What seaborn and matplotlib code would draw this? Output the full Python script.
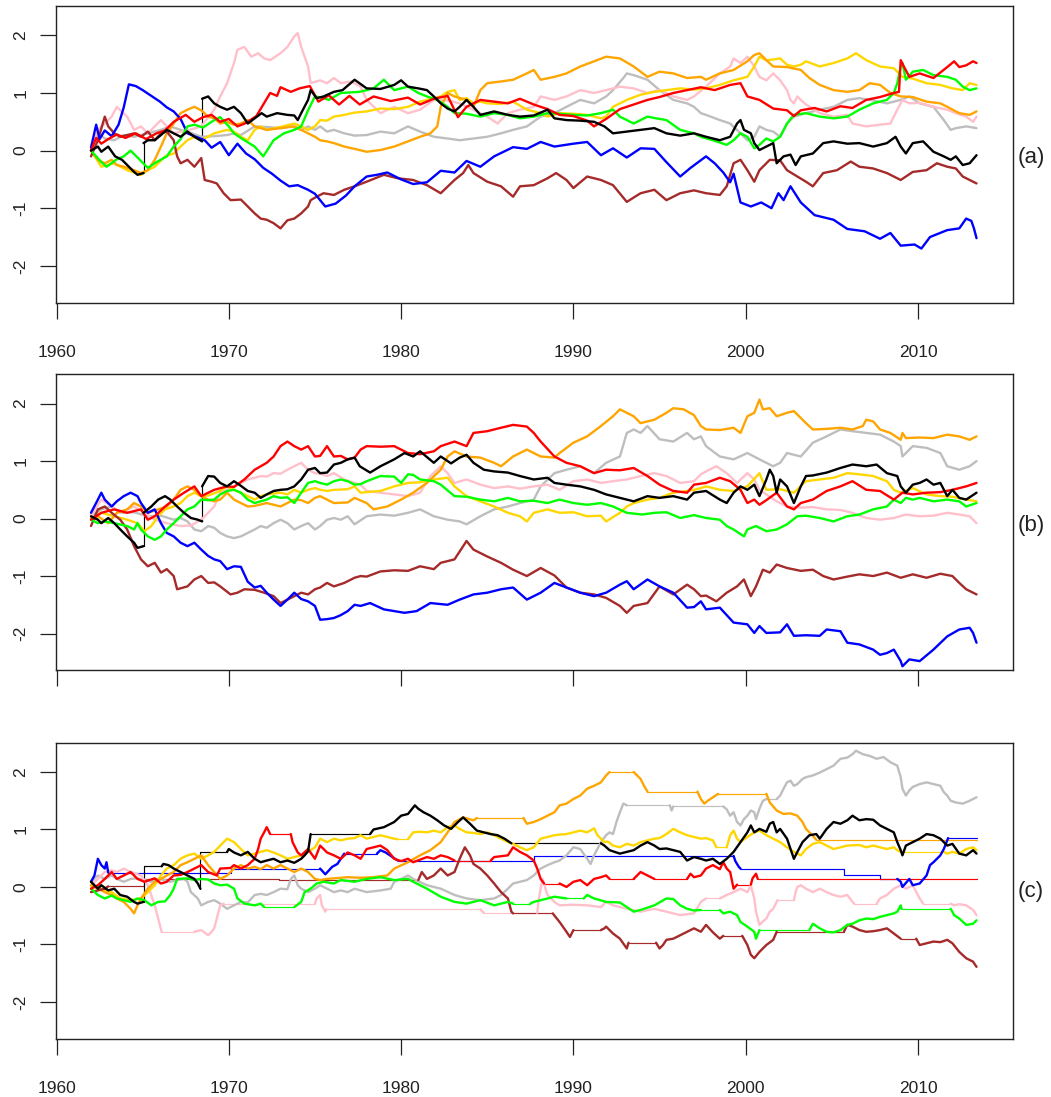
import matplotlib
matplotlib.use("Agg")
import matplotlib.pyplot as plt
import pandas as pd
import seaborn as sns

# ---------------------------------------------------------------- axes setup
YEAR_TICKS = [1960, 1970, 1980, 1990, 2000, 2010]
VALUE_TICKS = [-2, -1, 0, 1, 2]
PANEL_LABELS = ["(a)", "(b)", "(c)"]
SERIES_ORDER = ["gray", "pink", "gold", "orange", "brown", "blue", "green", "red", "black"]
SERIES_COLORS = {"red": "#FF0000", "green": "#00FF00", "blue": "#0000FF",
                 "black": "#000000", "brown": "#A52A2A", "pink": "#FFC0CB",
                 "orange": "#FFA500", "gold": "#FFD700", "gray": "#BEBEBE"}

# ---------------------------------------------------------------- panel (a)
A_RED = [(1962.0, 0.0), (1962.3, 0.22), (1962.6, 0.12), (1963.0, 0.2), (1963.5, 0.28), (1964.0, 0.22),
         (1964.6, 0.3), (1965.2, 0.2), (1965.8, 0.3), (1966.3, 0.35), (1966.8, 0.5), (1967.5, 0.62),
         (1968.0, 0.5), (1968.5, 0.58), (1969.0, 0.62), (1969.5, 0.5), (1970.0, 0.55), (1970.5, 0.42),
         (1971.0, 0.48), (1971.6, 0.6), (1972.1, 0.85), (1972.4, 1.0), (1972.8, 0.95), (1973.0, 1.1),
         (1973.6, 1.02), (1974.1, 1.08), (1974.7, 1.12), (1975.2, 0.85), (1975.8, 0.96), (1976.4, 0.8),
         (1977.0, 0.95), (1977.6, 0.8), (1978.4, 0.94), (1979.4, 0.86), (1980.4, 0.92), (1981.1, 0.8),
         (1981.9, 0.9), (1982.7, 0.95), (1983.3, 0.58), (1983.8, 0.76), (1984.6, 0.88), (1985.4, 0.85),
         (1986.2, 0.82), (1986.9, 0.9), (1987.7, 0.8), (1988.5, 0.72), (1989.2, 0.62), (1990.0, 0.6),
         (1990.8, 0.52), (1991.2, 0.42), (1991.9, 0.55), (1992.7, 0.72), (1993.5, 0.8), (1994.3, 0.88),
         (1995.0, 0.93), (1995.8, 1.0), (1996.6, 1.05), (1997.4, 1.1), (1998.2, 1.05), (1999.1, 1.14),
         (1999.7, 1.17), (2000.1, 0.94), (2000.8, 0.88), (2001.6, 0.73), (2002.4, 0.7), (2002.8, 0.6),
         (2003.2, 0.7), (2004.0, 0.74), (2004.7, 0.68), (2005.5, 0.77), (2006.2, 0.74), (2007.0, 0.88),
         (2007.8, 0.93), (2008.6, 1.0), (2008.9, 1.02), (2009.0, 1.57), (2009.2, 1.45), (2009.5, 1.28),
         (2010.1, 1.34), (2010.9, 1.26), (2011.7, 1.45), (2012.1, 1.55), (2012.4, 1.45), (2012.8, 1.48),
         (2013.2, 1.55), (2013.4, 1.52)]
A_GREEN = [(1962.0, 0.0), (1962.6, -0.2), (1962.9, -0.28), (1963.5, -0.15), (1963.9, -0.1), (1964.3, 0.0),
           (1964.8, -0.15), (1965.3, -0.3), (1965.8, -0.2), (1966.4, -0.1), (1966.8, 0.07), (1967.2, 0.2),
           (1967.6, 0.42), (1968.0, 0.45), (1968.5, 0.4), (1969.1, 0.52), (1969.5, 0.58), (1970.0, 0.42),
           (1970.3, 0.3), (1970.8, 0.2), (1971.5, 0.07), (1972.0, -0.1), (1972.6, 0.18), (1973.2, 0.3),
           (1973.8, 0.36), (1974.2, 0.42), (1974.6, 0.7), (1975.0, 0.94), (1975.4, 0.92), (1975.8, 0.88),
           (1976.5, 1.0), (1977.6, 1.02), (1978.4, 1.08), (1979.0, 1.23), (1979.6, 1.05), (1980.4, 1.11),
           (1981.0, 1.0), (1981.5, 0.94), (1982.1, 0.88), (1982.7, 0.76), (1983.1, 0.65), (1983.8, 0.64),
           (1984.6, 0.59), (1985.4, 0.65), (1986.2, 0.62), (1986.9, 0.56), (1987.7, 0.59), (1988.5, 0.65),
           (1989.2, 0.64), (1990.0, 0.62), (1990.8, 0.61), (1991.6, 0.65), (1992.3, 0.71), (1992.7, 0.59),
           (1993.5, 0.47), (1994.3, 0.59), (1994.8, 0.56), (1995.4, 0.53), (1996.2, 0.36), (1997.0, 0.3),
           (1997.4, 0.24), (1998.1, 0.18), (1998.9, 0.1), (1999.3, 0.18), (1999.7, 0.3), (2000.1, 0.24),
           (2000.5, 0.04), (2000.8, 0.1), (2001.2, 0.21), (2001.6, 0.16), (2002.0, 0.24), (2002.4, 0.47),
           (2002.8, 0.62), (2003.5, 0.65), (2004.3, 0.59), (2005.1, 0.56), (2005.9, 0.59), (2006.6, 0.71),
           (2007.4, 0.82), (2008.2, 0.88), (2008.6, 1.0), (2008.8, 1.17), (2009.0, 1.46), (2009.1, 1.52),
           (2009.3, 1.23), (2009.7, 1.37), (2010.3, 1.4), (2010.9, 1.31), (2011.7, 1.28), (2012.2, 1.23),
           (2012.6, 1.11), (2013.0, 1.05), (2013.4, 1.08)]
A_BLUE = [(1962.0, 0.05), (1962.3, 0.45), (1962.5, 0.2), (1962.8, 0.35), (1963.2, 0.25), (1963.6, 0.45),
          (1963.9, 0.75), (1964.2, 1.15), (1964.6, 1.12), (1965.0, 1.05), (1965.5, 0.95), (1966.0, 0.85),
          (1966.4, 0.75), (1966.8, 0.68), (1967.2, 0.55), (1967.6, 0.3), (1968.0, 0.25), (1968.6, 0.18),
          (1969.0, 0.05), (1969.5, 0.15), (1970.0, -0.08), (1970.5, 0.12), (1971.0, -0.05), (1971.5, -0.15),
          (1972.0, -0.3), (1972.5, -0.4), (1973.0, -0.52), (1973.5, -0.62), (1974.0, -0.6), (1974.6, -0.68),
          (1975.0, -0.75), (1975.6, -0.97), (1976.2, -0.92), (1976.8, -0.78), (1977.3, -0.62), (1978.0, -0.45),
          (1978.6, -0.42), (1979.2, -0.38), (1980.0, -0.5), (1980.7, -0.58), (1981.5, -0.55), (1982.3, -0.35),
          (1983.1, -0.38), (1983.8, -0.18), (1984.6, -0.28), (1985.4, -0.1), (1986.5, 0.06), (1987.3, 0.03),
          (1988.1, 0.15), (1988.9, 0.07), (1990.0, 0.12), (1990.8, 0.15), (1991.6, -0.08), (1992.3, 0.04),
          (1993.1, -0.12), (1993.9, 0.04), (1994.7, 0.03), (1995.4, -0.2), (1996.2, -0.45), (1996.8, -0.3),
          (1997.7, -0.1), (1998.2, -0.22), (1998.7, -0.38), (1999.1, -0.55), (1999.3, -0.4), (1999.7, -0.9),
          (2000.3, -0.97), (2000.9, -0.9), (2001.5, -1.0), (2001.9, -0.74), (2002.2, -0.86), (2002.6, -0.62),
          (2003.2, -0.9), (2004.0, -1.12), (2005.1, -1.2), (2005.9, -1.36), (2006.9, -1.4), (2007.8, -1.53),
          (2008.4, -1.43), (2009.0, -1.65), (2009.8, -1.63), (2010.2, -1.7), (2010.7, -1.5), (2011.7, -1.38),
          (2012.4, -1.35), (2012.8, -1.18), (2013.1, -1.22), (2013.25, -1.35), (2013.4, -1.52)]
A_BLACK = [(1962.0, 0.0), (1962.4, 0.07), (1962.6, -0.02), (1963.0, 0.07), (1963.4, -0.1), (1963.8, -0.16),
           (1964.2, -0.28), (1964.5, -0.37), (1964.7, -0.42), (1965.05, -0.39), (1965.05, 0.13), (1965.3, 0.18),
           (1965.7, 0.18), (1966.06, 0.27), (1966.4, 0.36), (1966.8, 0.3), (1967.2, 0.24), (1967.6, 0.33),
           (1968.0, 0.24), (1968.45, 0.16), (1968.45, 0.9), (1968.8, 0.94), (1969.15, 0.82), (1969.5, 0.76),
           (1969.9, 0.71), (1970.3, 0.76), (1970.7, 0.65), (1971.1, 0.47), (1971.5, 0.56), (1971.9, 0.65),
           (1972.2, 0.59), (1972.8, 0.65), (1973.4, 0.62), (1973.8, 0.61), (1974.0, 0.53), (1974.2, 0.65),
           (1974.6, 0.88), (1974.75, 1.05), (1975.1, 0.91), (1975.5, 0.94), (1976.1, 1.02), (1976.6, 1.05),
           (1977.3, 1.23), (1978.0, 1.08), (1978.8, 1.07), (1979.6, 1.14), (1980.0, 1.22), (1980.4, 1.11),
           (1981.0, 1.08), (1981.5, 1.05), (1981.9, 0.94), (1982.3, 0.82), (1982.7, 0.73), (1983.1, 0.68),
           (1983.4, 0.76), (1983.8, 0.88), (1984.2, 0.76), (1984.6, 0.62), (1985.0, 0.65), (1985.4, 0.68),
           (1986.2, 0.62), (1986.9, 0.59), (1987.7, 0.61), (1988.5, 0.71), (1988.9, 0.56), (1989.6, 0.53),
           (1990.4, 0.52), (1991.2, 0.5), (1991.8, 0.42), (1992.3, 0.3), (1993.1, 0.33), (1993.9, 0.36),
           (1994.7, 0.39), (1995.4, 0.3), (1996.2, 0.26), (1997.0, 0.3), (1997.7, 0.24), (1998.5, 0.18),
           (1999.1, 0.24), (1999.5, 0.47), (1999.7, 0.53), (1999.9, 0.36), (2000.3, 0.3), (2000.5, 0.13),
           (2000.8, 0.01), (2001.2, 0.07), (2001.6, 0.13), (2001.8, -0.22), (2002.2, -0.1), (2002.6, -0.07),
           (2002.9, -0.25), (2003.2, -0.1), (2003.9, -0.05), (2004.5, 0.13), (2005.1, 0.16), (2005.9, 0.12),
           (2006.6, 0.13), (2007.4, 0.07), (2008.2, 0.13), (2008.7, 0.24), (2009.0, 0.07), (2009.3, -0.05),
           (2009.7, 0.13), (2010.3, 0.16), (2010.9, -0.02), (2011.5, -0.1), (2011.9, -0.16), (2012.2, -0.1),
           (2012.6, -0.25), (2013.0, -0.22), (2013.4, -0.08)]
A_BROWN = [(1962.0, -0.1), (1962.4, 0.18), (1962.8, 0.59), (1963.0, 0.42), (1963.35, 0.3), (1963.7, 0.24),
           (1964.1, 0.27), (1964.5, 0.3), (1964.9, 0.24), (1965.3, 0.33), (1965.7, 0.18), (1966.06, 0.3),
           (1966.4, 0.33), (1966.8, 0.18), (1967.0, -0.1), (1967.2, -0.22), (1967.6, -0.16), (1968.0, -0.28),
           (1968.4, -0.13), (1968.6, -0.51), (1969.0, -0.54), (1969.3, -0.57), (1969.7, -0.74), (1970.1, -0.86),
           (1970.7, -0.85), (1971.1, -0.97), (1971.5, -1.09), (1971.85, -1.18), (1972.2, -1.2), (1972.6, -1.26),
           (1973.0, -1.35), (1973.4, -1.21), (1973.8, -1.18), (1974.2, -1.09), (1974.6, -0.97), (1974.75, -0.86),
           (1975.1, -0.8), (1975.5, -0.74), (1976.1, -0.77), (1976.7, -0.68), (1977.3, -0.62), (1978.0, -0.54),
           (1979.0, -0.42), (1979.8, -0.48), (1980.7, -0.51), (1981.5, -0.6), (1982.3, -0.74), (1983.1, -0.51),
           (1983.6, -0.39), (1983.9, -0.25), (1984.2, -0.39), (1985.0, -0.54), (1985.8, -0.62), (1986.5, -0.8),
           (1986.9, -0.62), (1987.7, -0.6), (1988.5, -0.48), (1989.0, -0.39), (1989.6, -0.51), (1990.0, -0.65),
           (1990.8, -0.45), (1991.6, -0.51), (1992.3, -0.6), (1993.1, -0.89), (1993.9, -0.74), (1994.7, -0.68),
           (1995.4, -0.86), (1996.2, -0.74), (1997.0, -0.69), (1997.7, -0.74), (1998.5, -0.77), (1998.9, -0.62),
           (1999.3, -0.22), (1999.7, -0.16), (2000.1, -0.34), (2000.5, -0.54), (2000.8, -0.34), (2001.4, -0.16),
           (2002.0, -0.17), (2002.4, -0.34), (2003.0, -0.45), (2003.5, -0.54), (2003.9, -0.62), (2004.5, -0.39),
           (2005.3, -0.34), (2006.1, -0.19), (2006.6, -0.28), (2007.4, -0.31), (2008.2, -0.39), (2009.0, -0.51),
           (2009.7, -0.37), (2010.5, -0.34), (2011.1, -0.22), (2011.7, -0.28), (2012.2, -0.31), (2012.6, -0.45),
           (2013.0, -0.51), (2013.4, -0.57)]
A_PINK = [(1962.0, 0.0), (1962.4, 0.36), (1962.8, 0.47), (1963.2, 0.59), (1963.5, 0.76), (1963.7, 0.7),
          (1964.1, 0.59), (1964.5, 0.36), (1964.9, 0.42), (1965.3, 0.3), (1965.7, 0.42), (1966.06, 0.53),
          (1966.4, 0.42), (1966.8, 0.3), (1967.6, 0.35), (1968.4, 0.42), (1969.15, 0.71), (1969.5, 0.94),
          (1969.9, 1.17), (1970.3, 1.52), (1970.5, 1.75), (1970.9, 1.8), (1971.3, 1.63), (1971.7, 1.69),
          (1972.05, 1.6), (1972.4, 1.57), (1973.0, 1.69), (1973.4, 1.8), (1973.8, 1.98), (1974.0, 2.04),
          (1974.2, 1.8), (1974.4, 1.63), (1974.6, 1.46), (1974.75, 1.17), (1975.3, 1.22), (1975.7, 1.17),
          (1976.1, 1.26), (1976.5, 1.17), (1977.1, 1.2), (1977.65, 1.11), (1978.0, 0.88), (1978.8, 0.65),
          (1979.6, 0.76), (1980.4, 0.65), (1981.1, 0.71), (1981.9, 0.88), (1982.7, 0.87), (1983.4, 0.82),
          (1984.2, 0.71), (1985.0, 0.59), (1985.6, 0.47), (1986.2, 0.65), (1986.9, 0.71), (1987.7, 0.76),
          (1988.1, 0.94), (1988.9, 0.88), (1989.6, 0.94), (1990.4, 1.05), (1991.2, 1.0), (1991.9, 1.05),
          (1992.7, 1.11), (1993.5, 1.08), (1994.3, 1.0), (1995.0, 1.05), (1995.8, 0.94), (1996.6, 0.88),
          (1997.0, 0.94), (1997.7, 1.11), (1998.5, 1.34), (1999.1, 1.46), (1999.3, 1.6), (1999.7, 1.52),
          (2000.1, 1.63), (2000.5, 1.46), (2000.8, 1.28), (2001.2, 1.22), (2001.6, 1.34), (2002.0, 1.22),
          (2002.4, 1.05), (2002.6, 0.88), (2002.8, 0.82), (2003.0, 0.94), (2003.2, 0.88), (2003.5, 0.8),
          (2004.3, 0.65), (2005.1, 0.59), (2005.9, 0.62), (2006.2, 0.47), (2007.0, 0.42), (2007.8, 0.45),
          (2008.4, 0.47), (2008.8, 0.71), (2009.1, 0.88), (2009.5, 0.82), (2010.1, 0.83), (2010.9, 0.76),
          (2011.7, 0.71), (2012.2, 0.65), (2012.8, 0.59), (2013.2, 0.5), (2013.4, 0.59)]
A_ORANGE = [(1962.0, 0.0), (1962.4, -0.16), (1962.8, -0.22), (1963.2, -0.16), (1963.5, -0.25), (1963.9, -0.28),
            (1964.5, -0.34), (1964.9, -0.39), (1965.3, -0.34), (1965.7, -0.16), (1966.06, 0.07), (1966.4, 0.3),
            (1966.8, 0.47), (1967.2, 0.65), (1967.6, 0.71), (1968.0, 0.76), (1968.4, 0.7), (1968.8, 0.59),
            (1969.15, 0.56), (1969.5, 0.47), (1969.9, 0.5), (1970.3, 0.45), (1970.7, 0.47), (1971.1, 0.53),
            (1971.5, 0.42), (1972.2, 0.36), (1973.0, 0.39), (1973.8, 0.42), (1974.2, 0.36), (1974.6, 0.3),
            (1975.0, 0.24), (1975.3, 0.18), (1975.7, 0.16), (1976.1, 0.13), (1976.7, 0.07), (1977.3, 0.03),
            (1978.0, -0.02), (1978.8, 0.01), (1979.6, 0.07), (1980.4, 0.16), (1981.1, 0.24), (1981.7, 0.3),
            (1982.1, 0.42), (1982.3, 0.76), (1982.7, 1.0), (1983.1, 0.94), (1983.8, 0.88), (1984.2, 0.76),
            (1984.6, 1.05), (1985.0, 1.17), (1985.8, 1.2), (1986.5, 1.23), (1987.3, 1.34), (1987.7, 1.4),
            (1988.1, 1.23), (1988.9, 1.28), (1989.6, 1.34), (1990.4, 1.46), (1991.2, 1.55), (1991.9, 1.63),
            (1992.7, 1.6), (1993.5, 1.46), (1993.9, 1.37), (1994.3, 1.28), (1995.0, 1.37), (1995.8, 1.34),
            (1996.6, 1.26), (1997.4, 1.28), (1997.7, 1.23), (1998.5, 1.34), (1999.3, 1.4), (2000.1, 1.55),
            (2000.5, 1.66), (2000.8, 1.69), (2001.2, 1.57), (2001.6, 1.46), (2002.4, 1.45), (2003.2, 1.4),
            (2003.7, 1.26), (2004.3, 1.14), (2005.1, 1.05), (2005.9, 1.02), (2006.6, 1.05), (2007.2, 1.17),
            (2007.8, 1.14), (2008.4, 1.0), (2009.0, 0.94), (2009.7, 0.93), (2010.5, 0.85), (2011.3, 0.82),
            (2011.7, 0.76), (2012.4, 0.65), (2013.0, 0.62), (2013.4, 0.68)]
A_GOLD = [(1962.0, 0.0), (1962.6, -0.28), (1963.35, -0.22), (1964.1, -0.34), (1964.9, -0.42), (1965.3, -0.34),
          (1965.7, -0.28), (1966.3, -0.1), (1966.8, -0.05), (1967.2, 0.07), (1967.6, 0.18), (1968.0, 0.24),
          (1968.4, 0.18), (1969.15, 0.3), (1969.9, 0.36), (1970.3, 0.33), (1970.7, 0.24), (1971.1, 0.18),
          (1971.5, 0.36), (1971.85, 0.42), (1972.2, 0.36), (1973.0, 0.41), (1973.8, 0.47), (1974.2, 0.42),
          (1974.6, 0.36), (1975.0, 0.42), (1975.3, 0.53), (1975.7, 0.52), (1976.1, 0.59), (1976.7, 0.62),
          (1977.3, 0.66), (1978.0, 0.68), (1978.8, 0.73), (1979.6, 0.72), (1980.4, 0.76), (1981.1, 0.85),
          (1981.9, 0.91), (1982.3, 0.94), (1982.7, 1.02), (1983.1, 1.05), (1983.4, 0.88), (1983.8, 0.91),
          (1984.2, 0.82), (1984.6, 0.85), (1985.0, 0.82), (1985.8, 0.81), (1986.5, 0.85), (1987.3, 0.71),
          (1988.1, 0.65), (1988.5, 0.59), (1989.2, 0.65), (1990.0, 0.64), (1990.8, 0.62), (1991.6, 0.56),
          (1991.9, 0.59), (1992.3, 0.76), (1993.1, 0.88), (1993.9, 0.97), (1994.7, 1.02), (1995.4, 1.05),
          (1996.2, 1.08), (1997.0, 1.06), (1997.7, 1.08), (1998.5, 1.14), (1999.3, 1.22), (2000.1, 1.28),
          (2000.5, 1.46), (2000.8, 1.63), (2001.2, 1.57), (2001.6, 1.58), (2002.0, 1.6), (2002.4, 1.49),
          (2002.8, 1.46), (2003.2, 1.49), (2003.5, 1.55), (2004.3, 1.46), (2005.1, 1.52), (2005.9, 1.6),
          (2006.4, 1.69), (2007.0, 1.57), (2007.8, 1.46), (2008.6, 1.43), (2009.1, 1.28), (2009.7, 1.25),
          (2010.5, 1.17), (2011.3, 1.14), (2012.0, 1.08), (2012.6, 1.05), (2013.0, 1.17), (2013.4, 1.14)]
A_GRAY = [(1962.0, 0.07), (1962.4, 0.3), (1962.8, 0.21), (1963.35, 0.18), (1963.9, 0.27), (1964.5, 0.24),
          (1965.3, 0.3), (1966.06, 0.36), (1966.6, 0.42), (1967.2, 0.36), (1967.6, 0.33), (1968.4, 0.24),
          (1969.15, 0.25), (1969.9, 0.27), (1970.3, 0.3), (1970.7, 0.27), (1971.5, 0.42), (1972.2, 0.41),
          (1973.0, 0.39), (1973.6, 0.42), (1974.2, 0.36), (1974.6, 0.42), (1975.0, 0.36), (1975.3, 0.42),
          (1975.7, 0.33), (1976.1, 0.36), (1976.7, 0.3), (1977.3, 0.26), (1978.0, 0.27), (1978.8, 0.33),
          (1979.6, 0.3), (1980.4, 0.42), (1981.1, 0.33), (1981.9, 0.24), (1982.7, 0.21), (1983.4, 0.18),
          (1984.2, 0.21), (1985.0, 0.24), (1985.8, 0.3), (1986.5, 0.36), (1987.3, 0.42), (1988.1, 0.59),
          (1988.9, 0.65), (1989.6, 0.76), (1990.4, 0.88), (1991.2, 0.82), (1991.9, 0.94), (1992.3, 1.05),
          (1992.9, 1.26), (1993.1, 1.34), (1993.5, 1.31), (1994.3, 1.23), (1995.0, 1.05), (1995.8, 0.88),
          (1996.6, 0.82), (1997.0, 0.76), (1997.4, 0.65), (1997.7, 0.62), (1998.5, 0.53), (1999.1, 0.47),
          (1999.7, 0.3), (2000.1, 0.18), (2000.5, 0.24), (2000.8, 0.42), (2001.2, 0.36), (2001.6, 0.33),
          (2002.0, 0.24), (2002.4, 0.47), (2002.8, 0.59), (2003.5, 0.65), (2004.3, 0.71), (2005.1, 0.76),
          (2005.9, 0.88), (2006.6, 0.91), (2007.4, 0.87), (2008.2, 0.82), (2009.0, 0.88), (2009.5, 0.94),
          (2010.1, 0.82), (2010.9, 0.76), (2011.5, 0.53), (2011.9, 0.36), (2012.2, 0.39), (2012.8, 0.42),
          (2013.4, 0.39)]

# ---------------------------------------------------------------- panel (b)
B_RED = [(1962.0, -0.02), (1962.6, 0.1), (1963.35, 0.16), (1964.1, 0.1), (1964.9, 0.16), (1965.3, -0.02),
         (1965.7, 0.04), (1966.3, 0.21), (1966.8, 0.33), (1967.4, 0.45), (1968.0, 0.56), (1968.4, 0.39),
         (1969.15, 0.5), (1969.9, 0.56), (1970.3, 0.55), (1970.9, 0.68), (1971.5, 0.85), (1971.85, 0.91),
         (1972.2, 0.97), (1972.6, 1.08), (1973.0, 1.26), (1973.4, 1.34), (1973.8, 1.26), (1974.2, 1.2),
         (1974.6, 1.26), (1975.0, 1.08), (1975.3, 1.09), (1975.7, 1.26), (1976.1, 1.08), (1976.5, 1.09),
         (1976.9, 1.03), (1977.3, 1.06), (1977.65, 1.2), (1978.0, 1.26), (1978.8, 1.25), (1979.6, 1.26),
         (1980.4, 1.14), (1981.1, 1.12), (1981.9, 1.17), (1982.3, 1.26), (1983.1, 1.34), (1983.8, 1.26),
         (1984.2, 1.49), (1985.0, 1.52), (1985.8, 1.58), (1986.5, 1.63), (1987.3, 1.6), (1987.7, 1.49),
         (1988.1, 1.34), (1988.9, 1.08), (1989.6, 0.97), (1990.4, 0.91), (1991.2, 0.79), (1991.9, 0.85),
         (1992.7, 0.84), (1993.5, 0.88), (1994.3, 0.74), (1995.0, 0.59), (1995.8, 0.48), (1996.6, 0.45),
         (1997.0, 0.59), (1997.7, 0.62), (1998.5, 0.71), (1999.1, 0.65), (1999.7, 0.5), (2000.1, 0.27),
         (2000.5, 0.33), (2000.8, 0.24), (2001.2, 0.32), (2001.8, 0.45), (2002.4, 0.21), (2002.8, 0.16),
         (2003.2, 0.27), (2003.9, 0.33), (2004.7, 0.48), (2005.5, 0.56), (2006.2, 0.65), (2007.0, 0.5),
         (2007.8, 0.48), (2008.6, 0.33), (2009.1, 0.45), (2009.7, 0.42), (2010.5, 0.45), (2011.3, 0.46),
         (2012.0, 0.5), (2012.8, 0.56), (2013.4, 0.62)]
B_GREEN = [(1962.0, -0.02), (1962.4, -0.08), (1962.8, -0.05), (1963.35, -0.08), (1964.1, -0.13), (1964.5, -0.19),
           (1964.7, -0.08), (1964.9, -0.19), (1965.3, -0.31), (1965.7, -0.37), (1966.06, -0.31), (1966.4, -0.19),
           (1966.8, -0.08), (1967.2, 0.04), (1967.6, 0.16), (1968.0, 0.21), (1968.4, 0.33), (1968.8, 0.32),
           (1969.15, 0.33), (1969.5, 0.42), (1969.9, 0.48), (1970.3, 0.5), (1970.7, 0.45), (1971.1, 0.33),
           (1971.5, 0.27), (1971.85, 0.3), (1972.2, 0.33), (1972.6, 0.39), (1973.0, 0.36), (1973.4, 0.37),
           (1973.8, 0.27), (1974.2, 0.45), (1974.6, 0.62), (1975.0, 0.65), (1975.3, 0.62), (1975.7, 0.59),
           (1976.1, 0.65), (1976.5, 0.68), (1976.9, 0.65), (1977.3, 0.59), (1977.65, 0.6), (1978.0, 0.65),
           (1978.8, 0.74), (1979.6, 0.73), (1980.0, 0.62), (1980.4, 0.77), (1980.7, 0.76), (1981.1, 0.68),
           (1981.9, 0.65), (1982.3, 0.59), (1983.1, 0.39), (1983.8, 0.38), (1984.6, 0.33), (1985.4, 0.3),
           (1986.2, 0.36), (1986.9, 0.3), (1987.7, 0.31), (1988.5, 0.27), (1989.2, 0.33), (1990.0, 0.27),
           (1990.8, 0.24), (1991.6, 0.27), (1992.3, 0.21), (1993.1, 0.1), (1994.0, 0.07), (1994.7, 0.1),
           (1995.4, 0.11), (1996.2, 0.01), (1997.0, 0.06), (1997.7, 0.01), (1998.5, -0.02), (1998.9, -0.13),
           (1999.3, -0.19), (1999.9, -0.31), (2000.1, -0.19), (2000.6, -0.13), (2001.2, -0.22), (2001.8, -0.19),
           (2002.4, -0.1), (2003.0, 0.04), (2003.5, 0.05), (2004.3, 0.01), (2005.1, -0.05), (2005.9, 0.04),
           (2006.6, 0.07), (2007.4, 0.16), (2008.2, 0.21), (2008.6, 0.33), (2009.0, 0.27), (2009.3, 0.36),
           (2009.7, 0.33), (2010.1, 0.36), (2010.9, 0.3), (2011.7, 0.33), (2012.4, 0.3), (2012.8, 0.21),
           (2013.4, 0.27)]
B_BLUE = [(1962.0, 0.1), (1962.4, 0.33), (1962.6, 0.45), (1962.8, 0.33), (1963.2, 0.21), (1963.5, 0.3),
          (1963.9, 0.39), (1964.3, 0.45), (1964.7, 0.39), (1964.9, 0.27), (1965.3, 0.1), (1965.7, 0.16),
          (1966.06, -0.08), (1966.4, -0.25), (1966.8, -0.31), (1967.2, -0.42), (1967.6, -0.48), (1968.0, -0.42),
          (1968.4, -0.54), (1968.8, -0.65), (1969.15, -0.71), (1969.5, -0.74), (1969.9, -0.88), (1970.3, -0.83),
          (1970.7, -0.84), (1971.1, -1.1), (1971.5, -1.2), (1971.85, -1.17), (1972.2, -1.29), (1972.6, -1.41),
          (1973.0, -1.52), (1973.4, -1.41), (1973.8, -1.29), (1974.2, -1.4), (1974.6, -1.44), (1975.0, -1.52),
          (1975.3, -1.76), (1975.7, -1.75), (1976.1, -1.73), (1976.5, -1.68), (1976.9, -1.61), (1977.3, -1.5),
          (1977.65, -1.52), (1978.2, -1.47), (1979.0, -1.58), (1980.2, -1.64), (1980.9, -1.61), (1981.7, -1.47),
          (1982.7, -1.5), (1983.4, -1.41), (1984.2, -1.32), (1985.0, -1.29), (1985.8, -1.23), (1986.5, -1.2),
          (1987.3, -1.41), (1988.1, -1.29), (1988.9, -1.12), (1989.6, -1.2), (1990.4, -1.29), (1991.2, -1.35),
          (1991.9, -1.29), (1992.7, -1.15), (1993.1, -1.09), (1993.5, -1.23), (1994.3, -1.06), (1995.0, -1.18),
          (1995.8, -1.29), (1996.6, -1.55), (1997.0, -1.54), (1997.4, -1.44), (1997.7, -1.58), (1998.5, -1.55),
          (1999.3, -1.81), (2000.1, -1.84), (2000.5, -1.99), (2000.8, -1.87), (2001.2, -1.99), (2002.0, -1.98),
          (2002.4, -1.84), (2002.8, -2.04), (2003.5, -2.03), (2004.3, -2.04), (2004.7, -1.93), (2005.5, -1.96),
          (2005.9, -2.16), (2006.6, -2.19), (2007.4, -2.28), (2007.8, -2.37), (2008.2, -2.34), (2008.6, -2.28),
          (2009.0, -2.48), (2009.1, -2.57), (2009.5, -2.45), (2010.1, -2.48), (2010.9, -2.28), (2011.7, -2.05),
          (2012.4, -1.93), (2013.0, -1.9), (2013.2, -1.99), (2013.4, -2.16)]
B_BLACK = [(1962.0, 0.04), (1962.4, -0.02), (1962.6, -0.08), (1963.0, 0.01), (1963.35, -0.08), (1963.7, -0.19),
           (1964.1, -0.31), (1964.5, -0.42), (1964.7, -0.51), (1965.05, -0.48), (1965.05, 0.1), (1965.5, 0.21),
           (1965.9, 0.33), (1966.3, 0.39), (1966.6, 0.33), (1967.0, 0.21), (1967.4, 0.1), (1967.8, 0.01),
           (1968.2, -0.02), (1968.45, -0.05), (1968.45, 0.56), (1968.8, 0.74), (1969.15, 0.73), (1969.5, 0.62),
           (1969.9, 0.56), (1970.3, 0.65), (1970.7, 0.57), (1971.1, 0.48), (1971.5, 0.45), (1971.85, 0.36),
           (1972.2, 0.42), (1972.6, 0.48), (1973.0, 0.5), (1973.4, 0.51), (1973.8, 0.56), (1974.2, 0.68),
           (1974.6, 0.85), (1975.0, 0.88), (1975.3, 0.79), (1975.7, 0.8), (1976.1, 0.94), (1976.5, 0.97),
           (1976.9, 1.03), (1977.3, 1.06), (1977.6, 0.91), (1978.2, 0.8), (1978.8, 0.91), (1979.6, 1.03),
           (1980.2, 1.14), (1980.7, 1.08), (1981.1, 1.17), (1981.5, 1.07), (1981.9, 0.97), (1982.3, 1.08),
           (1982.9, 0.96), (1983.4, 1.06), (1983.8, 1.11), (1984.2, 0.97), (1984.8, 0.85), (1985.4, 0.82),
           (1986.2, 0.8), (1986.9, 0.74), (1987.7, 0.68), (1988.5, 0.71), (1988.9, 0.62), (1989.6, 0.59),
           (1990.4, 0.56), (1991.2, 0.5), (1991.9, 0.42), (1992.7, 0.36), (1993.5, 0.3), (1994.3, 0.39),
           (1995.0, 0.36), (1995.8, 0.39), (1996.6, 0.33), (1997.0, 0.45), (1997.7, 0.48), (1998.5, 0.33),
           (1998.9, 0.27), (1999.3, 0.45), (1999.7, 0.56), (2000.1, 0.5), (2000.5, 0.59), (2000.8, 0.39),
           (2001.2, 0.68), (2001.4, 0.85), (2001.6, 0.74), (2001.8, 0.45), (2002.0, 0.68), (2002.4, 0.56),
           (2002.8, 0.27), (2003.2, 0.56), (2003.5, 0.74), (2003.9, 0.75), (2004.7, 0.8), (2005.5, 0.88),
           (2006.2, 0.94), (2007.0, 0.91), (2007.6, 0.94), (2008.2, 0.79), (2008.8, 0.74), (2009.0, 0.56),
           (2009.3, 0.45), (2009.7, 0.59), (2010.1, 0.62), (2010.5, 0.68), (2010.9, 0.59), (2011.3, 0.62),
           (2011.7, 0.39), (2012.0, 0.5), (2012.4, 0.36), (2012.8, 0.33), (2013.4, 0.45)]
B_BROWN = [(1962.0, -0.13), (1962.4, 0.16), (1962.8, 0.21), (1963.2, 0.1), (1963.7, -0.02), (1964.1, -0.19),
           (1964.5, -0.48), (1964.9, -0.71), (1965.3, -0.83), (1965.7, -0.77), (1966.06, -0.94), (1966.4, -0.88),
           (1966.8, -1.0), (1967.0, -1.23), (1967.6, -1.18), (1968.0, -1.06), (1968.4, -1.0), (1968.8, -1.12),
           (1969.15, -1.11), (1969.5, -1.18), (1970.1, -1.32), (1970.5, -1.29), (1970.9, -1.23), (1971.5, -1.24),
           (1972.05, -1.29), (1972.6, -1.35), (1973.0, -1.47), (1973.4, -1.41), (1973.8, -1.35), (1974.2, -1.29),
           (1974.6, -1.32), (1975.0, -1.23), (1975.3, -1.2), (1975.7, -1.12), (1976.1, -1.18), (1976.7, -1.12),
           (1977.3, -1.03), (1977.65, -1.0), (1978.0, -1.01), (1978.8, -0.92), (1979.6, -0.9), (1980.4, -0.91),
           (1981.1, -0.83), (1981.9, -0.88), (1982.3, -0.77), (1983.1, -0.71), (1983.8, -0.39), (1984.2, -0.54),
           (1985.0, -0.66), (1985.8, -0.77), (1986.5, -0.89), (1987.3, -1.0), (1988.1, -0.86), (1988.9, -0.99),
           (1989.6, -1.2), (1990.4, -1.29), (1991.2, -1.32), (1991.9, -1.38), (1992.7, -1.52), (1993.1, -1.64),
           (1993.5, -1.52), (1994.3, -1.47), (1995.0, -1.18), (1995.8, -1.32), (1996.6, -1.15), (1997.0, -1.23),
           (1997.4, -1.35), (1997.7, -1.34), (1998.3, -1.44), (1998.9, -1.29), (1999.5, -1.18), (1999.9, -1.06),
           (2000.3, -1.35), (2000.6, -1.18), (2001.0, -0.89), (2001.4, -0.94), (2001.8, -0.8), (2002.4, -0.86),
           (2003.2, -0.91), (2003.9, -0.89), (2004.5, -1.0), (2005.1, -1.06), (2005.9, -1.01), (2006.6, -0.97),
           (2007.4, -1.0), (2008.2, -0.94), (2009.0, -1.03), (2009.7, -0.97), (2010.5, -1.03), (2011.3, -0.96),
           (2012.0, -1.0), (2012.4, -1.12), (2012.8, -1.23), (2013.4, -1.32)]
B_PINK = [(1962.0, 0.05), (1962.6, 0.33), (1963.2, 0.21), (1963.7, 0.1), (1964.5, 0.21), (1965.1, 0.1),
          (1965.7, -0.02), (1966.4, -0.08), (1967.2, -0.13), (1967.8, -0.12), (1968.4, -0.02), (1968.8, 0.1),
          (1969.15, 0.21), (1969.5, 0.45), (1969.9, 0.5), (1970.3, 0.56), (1970.7, 0.62), (1971.1, 0.68),
          (1971.5, 0.71), (1971.85, 0.74), (1972.2, 0.73), (1972.6, 0.79), (1973.0, 0.78), (1973.4, 0.85),
          (1973.8, 0.91), (1974.2, 0.97), (1974.6, 0.85), (1975.0, 0.79), (1975.3, 0.78), (1975.7, 0.74),
          (1976.1, 0.79), (1976.7, 0.68), (1977.3, 0.62), (1977.65, 0.59), (1978.0, 0.48), (1978.8, 0.45),
          (1979.6, 0.42), (1980.4, 0.39), (1981.1, 0.45), (1981.7, 0.74), (1982.3, 0.91), (1982.7, 0.79),
          (1983.1, 0.62), (1983.8, 0.68), (1984.6, 0.59), (1985.4, 0.53), (1986.2, 0.56), (1986.9, 0.52),
          (1987.7, 0.56), (1988.5, 0.59), (1989.2, 0.5), (1990.0, 0.65), (1990.8, 0.68), (1991.6, 0.62),
          (1992.3, 0.65), (1993.1, 0.68), (1993.9, 0.74), (1994.7, 0.79), (1995.4, 0.74), (1996.2, 0.62),
          (1997.0, 0.65), (1997.4, 0.77), (1997.7, 0.82), (1998.3, 0.91), (1998.9, 0.79), (1999.5, 0.62),
          (2000.1, 0.79), (2000.5, 0.68), (2000.8, 0.5), (2001.2, 0.42), (2001.8, 0.3), (2002.4, 0.21),
          (2003.2, 0.19), (2003.9, 0.2), (2004.7, 0.16), (2005.5, 0.15), (2006.2, 0.1), (2007.0, 0.01),
          (2007.8, -0.02), (2008.6, 0.01), (2009.3, 0.07), (2010.1, 0.04), (2010.9, 0.05), (2011.7, 0.1),
          (2012.4, 0.07), (2013.0, 0.04), (2013.4, -0.08)]
B_ORANGE = [(1962.0, 0.0), (1962.4, 0.04), (1963.0, -0.08), (1963.5, 0.1), (1964.1, 0.16), (1964.5, 0.27),
            (1964.9, 0.21), (1965.3, 0.1), (1965.9, 0.16), (1966.4, 0.21), (1966.8, 0.33), (1967.2, 0.5),
            (1967.6, 0.56), (1968.0, 0.5), (1968.4, 0.39), (1968.8, 0.33), (1969.15, 0.3), (1969.5, 0.33),
            (1969.9, 0.45), (1970.3, 0.33), (1970.7, 0.27), (1971.1, 0.21), (1971.5, 0.22), (1972.2, 0.27),
            (1973.0, 0.21), (1973.4, 0.27), (1973.8, 0.33), (1974.2, 0.32), (1974.6, 0.27), (1975.0, 0.36),
            (1975.3, 0.39), (1975.7, 0.33), (1976.1, 0.27), (1976.9, 0.28), (1977.3, 0.36), (1978.0, 0.27),
            (1978.4, 0.16), (1979.2, 0.21), (1980.0, 0.33), (1980.7, 0.45), (1981.5, 0.62), (1982.3, 0.85),
            (1982.7, 1.08), (1983.1, 1.17), (1983.8, 1.08), (1984.6, 1.06), (1985.4, 0.97), (1985.8, 0.91),
            (1986.5, 1.08), (1987.3, 1.2), (1988.1, 1.08), (1988.9, 1.06), (1989.2, 1.14), (1990.0, 1.32),
            (1990.8, 1.43), (1991.6, 1.61), (1992.3, 1.78), (1992.7, 1.9), (1993.5, 1.78), (1993.9, 1.66),
            (1994.7, 1.72), (1995.4, 1.84), (1995.8, 1.92), (1996.4, 1.9), (1997.0, 1.8), (1997.4, 1.61),
            (1997.7, 1.55), (1998.5, 1.54), (1999.3, 1.58), (1999.7, 1.49), (2000.1, 1.78), (2000.5, 1.84),
            (2000.8, 2.07), (2001.0, 1.9), (2001.4, 1.92), (2001.8, 1.78), (2002.4, 1.84), (2002.8, 1.87),
            (2003.2, 1.75), (2003.5, 1.66), (2003.9, 1.55), (2004.7, 1.56), (2005.5, 1.58), (2006.2, 1.55),
            (2006.8, 1.61), (2007.0, 1.72), (2007.4, 1.69), (2007.8, 1.55), (2008.4, 1.49), (2009.0, 1.37),
            (2009.1, 1.49), (2009.3, 1.4), (2010.1, 1.41), (2010.9, 1.4), (2011.7, 1.46), (2012.4, 1.43),
            (2013.0, 1.37), (2013.4, 1.43)]
B_GOLD = [(1962.0, 0.0), (1962.6, 0.1), (1963.35, 0.04), (1964.1, -0.02), (1964.7, -0.08), (1965.1, -0.22),
          (1965.5, -0.13), (1965.9, 0.04), (1966.3, 0.16), (1966.8, 0.21), (1967.2, 0.27), (1967.6, 0.39),
          (1968.0, 0.45), (1968.4, 0.39), (1968.8, 0.4), (1969.5, 0.48), (1969.9, 0.56), (1970.3, 0.5),
          (1970.7, 0.45), (1971.1, 0.39), (1971.5, 0.33), (1971.85, 0.39), (1972.2, 0.42), (1973.0, 0.45),
          (1973.4, 0.42), (1973.8, 0.5), (1974.2, 0.45), (1974.6, 0.5), (1975.0, 0.53), (1975.3, 0.5),
          (1975.7, 0.48), (1976.1, 0.5), (1976.9, 0.51), (1977.3, 0.56), (1977.65, 0.45), (1978.0, 0.46),
          (1978.8, 0.48), (1979.6, 0.56), (1980.4, 0.62), (1981.1, 0.63), (1981.9, 0.68), (1982.7, 0.71),
          (1983.1, 0.56), (1983.8, 0.39), (1984.6, 0.3), (1985.4, 0.21), (1986.2, 0.1), (1986.9, 0.04),
          (1987.3, -0.05), (1987.7, 0.1), (1988.5, 0.16), (1989.2, 0.1), (1990.0, 0.11), (1990.8, 0.04),
          (1991.6, 0.05), (1991.9, -0.05), (1992.7, 0.1), (1993.1, 0.21), (1993.5, 0.27), (1994.3, 0.33),
          (1995.0, 0.36), (1995.8, 0.45), (1996.6, 0.48), (1997.0, 0.5), (1997.4, 0.53), (1997.7, 0.56),
          (1998.5, 0.5), (1999.3, 0.48), (2000.1, 0.56), (2000.8, 0.79), (2001.2, 0.5), (2002.0, 0.51),
          (2002.8, 0.45), (2003.5, 0.65), (2004.3, 0.68), (2005.1, 0.71), (2005.9, 0.79), (2006.6, 0.77),
          (2007.4, 0.74), (2008.2, 0.65), (2008.6, 0.5), (2009.0, 0.45), (2009.7, 0.53), (2010.5, 0.42),
          (2011.3, 0.39), (2012.0, 0.38), (2012.8, 0.33), (2013.4, 0.3)]
B_GRAY = [(1962.0, 0.04), (1962.6, 0.16), (1963.2, 0.21), (1963.7, 0.1), (1964.5, 0.11), (1965.3, 0.04),
          (1966.06, 0.05), (1966.8, -0.02), (1967.2, 0.01), (1967.6, -0.05), (1968.0, -0.19), (1968.4, -0.22),
          (1968.8, -0.13), (1969.15, -0.16), (1969.5, -0.25), (1969.9, -0.31), (1970.3, -0.34), (1970.7, -0.31),
          (1971.1, -0.25), (1971.5, -0.19), (1971.85, -0.13), (1972.2, -0.16), (1972.6, -0.08), (1973.0, -0.02),
          (1973.4, -0.08), (1973.8, -0.19), (1974.2, -0.13), (1974.6, -0.08), (1975.0, -0.19), (1975.3, -0.13),
          (1975.7, -0.02), (1976.1, 0.01), (1976.5, -0.02), (1976.9, 0.04), (1977.3, -0.1), (1978.0, 0.04),
          (1978.8, 0.07), (1979.6, 0.05), (1980.4, 0.1), (1981.1, 0.16), (1981.9, 0.04), (1982.7, -0.02),
          (1983.4, -0.05), (1983.8, -0.1), (1984.6, 0.04), (1985.4, 0.16), (1986.2, 0.21), (1986.9, 0.27),
          (1987.7, 0.33), (1988.1, 0.56), (1988.9, 0.79), (1989.6, 0.85), (1990.4, 0.91), (1991.2, 0.79),
          (1991.9, 0.97), (1992.7, 1.08), (1993.1, 1.49), (1993.5, 1.55), (1993.9, 1.49), (1994.3, 1.61),
          (1995.0, 1.38), (1995.8, 1.34), (1996.6, 1.49), (1997.0, 1.38), (1997.4, 1.43), (1997.7, 1.26),
          (1998.5, 1.08), (1999.3, 1.03), (2000.1, 1.14), (2000.8, 1.03), (2001.6, 0.91), (2002.0, 0.97),
          (2002.4, 1.14), (2003.2, 1.08), (2003.9, 1.32), (2004.7, 1.43), (2005.5, 1.55), (2006.2, 1.52),
          (2007.0, 1.49), (2007.8, 1.46), (2008.6, 1.34), (2009.0, 1.26), (2009.1, 1.08), (2009.3, 1.14),
          (2009.7, 1.26), (2010.5, 1.23), (2011.3, 1.14), (2011.7, 0.91), (2012.4, 0.85), (2013.0, 0.91),
          (2013.4, 1.0)]

# ---------------------------------------------------------------- panel (c)
C_RED = [(1962.0, -0.03), (1962.4, 0.03), (1962.8, 0.14), (1963.2, 0.26), (1963.5, 0.14), (1963.9, 0.2),
         (1964.3, 0.26), (1964.7, 0.14), (1965.1, 0.09), (1965.7, 0.15), (1966.06, 0.06), (1966.4, 0.09),
         (1966.8, 0.2), (1967.2, 0.21), (1967.6, 0.26), (1968.0, 0.32), (1968.4, 0.38), (1968.8, 0.26),
         (1969.3, 0.2), (1969.5, 0.32), (1970.1, 0.33), (1970.3, 0.38), (1970.7, 0.32), (1971.1, 0.38),
         (1971.5, 0.49), (1971.7, 0.66), (1971.85, 0.84), (1972.05, 0.95), (1972.2, 1.04), (1972.4, 0.92),
         (1973.6, 0.92), (1973.7, 0.78), (1974.0, 0.6), (1974.2, 0.55), (1974.6, 0.66), (1975.0, 0.49),
         (1975.3, 0.72), (1975.7, 0.6), (1976.1, 0.55), (1976.5, 0.49), (1976.9, 0.6), (1977.3, 0.55),
         (1977.65, 0.49), (1978.0, 0.66), (1978.4, 0.69), (1978.8, 0.72), (1979.2, 0.64), (1979.6, 0.49),
         (1980.0, 0.45), (1980.4, 0.49), (1980.7, 0.43), (1981.5, 0.52), (1981.9, 0.49), (1982.3, 0.55),
         (1982.7, 0.52), (1983.1, 0.46), (1985.2, 0.46), (1985.4, 0.52), (1986.2, 0.55), (1986.5, 0.69),
         (1986.9, 0.61), (1987.3, 0.55), (1987.7, 0.46), (1987.9, 0.32), (1988.1, 0.14), (1988.3, 0.06),
         (1989.2, 0.06), (1989.6, 0.0), (1990.0, 0.09), (1990.4, 0.12), (1990.8, 0.03), (1991.2, 0.14),
         (1991.6, 0.17), (1991.9, 0.2), (1992.1, 0.14), (1993.5, 0.14), (1993.9, 0.26), (1994.3, 0.2),
         (1994.7, 0.14), (1996.6, 0.14), (1996.8, 0.23), (1997.0, 0.17), (1997.4, 0.2), (1997.7, 0.32),
         (1998.1, 0.38), (1998.5, 0.31), (1998.7, 0.43), (1998.9, 0.32), (1999.1, 0.26), (1999.3, -0.03),
         (1999.5, 0.04), (2000.3, 0.04), (2000.4, 0.15), (2000.6, 0.23), (2000.7, 0.14), (2013.4, 0.14)]
C_GREEN = [(1962.0, -0.03), (1962.4, -0.14), (1962.8, -0.2), (1963.2, -0.15), (1963.5, -0.2), (1963.9, -0.23),
           (1964.3, -0.26), (1964.7, -0.2), (1965.1, -0.23), (1965.5, -0.32), (1965.9, -0.26), (1966.3, -0.25),
           (1966.6, -0.14), (1966.8, -0.03), (1967.0, 0.14), (1967.6, 0.15), (1968.0, 0.12), (1968.4, 0.14),
           (1968.8, 0.13), (1969.15, 0.06), (1969.5, 0.03), (1969.9, 0.04), (1970.3, -0.03), (1970.5, -0.2),
           (1970.9, -0.29), (1971.5, -0.32), (1971.85, -0.29), (1972.05, -0.35), (1973.8, -0.35), (1974.2, -0.26),
           (1974.4, -0.09), (1974.75, -0.03), (1975.1, 0.06), (1975.5, 0.09), (1976.1, 0.06), (1976.5, 0.12),
           (1977.3, 0.09), (1978.0, 0.14), (1978.8, 0.17), (1979.6, 0.12), (1980.4, 0.14), (1980.7, 0.09),
           (1981.5, -0.03), (1982.3, -0.17), (1983.1, -0.26), (1983.8, -0.29), (1984.6, -0.23), (1985.4, -0.32),
           (1986.2, -0.26), (1986.5, -0.29), (1987.5, -0.29), (1987.7, -0.26), (1988.5, -0.2), (1988.9, -0.17),
           (1989.6, -0.2), (1990.6, -0.2), (1990.8, -0.14), (1991.2, -0.2), (1991.9, -0.26), (1992.7, -0.27),
           (1993.5, -0.43), (1993.9, -0.4), (1994.7, -0.32), (1995.4, -0.2), (1995.8, -0.21), (1996.2, -0.32),
           (1996.6, -0.38), (1997.0, -0.41), (1997.4, -0.4), (1998.5, -0.4), (1998.7, -0.46), (1999.1, -0.43),
           (1999.5, -0.49), (1999.7, -0.61), (2000.1, -0.69), (2000.5, -0.78), (2000.6, -0.9), (2000.8, -0.75),
           (2003.7, -0.75), (2003.9, -0.64), (2004.3, -0.72), (2004.7, -0.78), (2005.1, -0.79), (2005.5, -0.75),
           (2005.9, -0.66), (2006.2, -0.64), (2006.6, -0.58), (2007.0, -0.55), (2007.4, -0.56), (2007.8, -0.52),
           (2008.2, -0.49), (2008.6, -0.46), (2008.8, -0.43), (2009.0, -0.32), (2009.05, -0.38), (2011.9, -0.38),
           (2012.1, -0.49), (2012.4, -0.55), (2012.8, -0.66), (2013.2, -0.64), (2013.4, -0.58)]
C_BLUE = [(1962.0, 0.09), (1962.2, 0.2), (1962.4, 0.49), (1962.6, 0.38), (1962.8, 0.32), (1962.9, 0.43),
          (1963.0, 0.25), (1970.1, 0.25), (1970.1, 0.32), (1975.3, 0.32), (1975.6, 0.22), (1976.0, 0.35),
          (1976.3, 0.4), (1976.7, 0.58), (1978.6, 0.58), (1978.8, 0.64), (1979.1, 0.6), (1979.5, 0.52),
          (1979.8, 0.46), (1987.7, 0.46), (1987.7, 0.54), (1999.3, 0.54), (1999.4, 0.45), (1999.6, 0.35),
          (1999.7, 0.32), (2005.7, 0.32), (2005.7, 0.2), (2007.8, 0.2), (2007.8, 0.14), (2008.8, 0.14),
          (2009.0, 0.09), (2009.1, 0.0), (2009.5, 0.14), (2009.7, 0.03), (2010.1, 0.06), (2010.5, 0.2),
          (2010.7, 0.38), (2010.9, 0.43), (2011.3, 0.55), (2011.5, 0.66), (2011.7, 0.81), (2011.75, 0.85),
          (2013.4, 0.85)]
C_BLACK = [(1962.0, 0.09), (1962.2, 0.03), (1962.4, -0.03), (1962.6, 0.03), (1963.0, -0.06), (1963.35, -0.03),
           (1963.7, -0.14), (1964.1, -0.17), (1964.5, -0.26), (1964.7, -0.29), (1965.05, -0.26), (1965.05, 0.36),
           (1966.1, 0.36), (1966.2, 0.4), (1966.5, 0.38), (1966.8, 0.32), (1967.2, 0.26), (1967.6, 0.2),
           (1968.0, 0.14), (1968.2, 0.06), (1968.35, -0.03), (1968.35, 0.61), (1969.9, 0.61), (1970.0, 0.66),
           (1970.3, 0.6), (1970.7, 0.55), (1971.1, 0.61), (1971.5, 0.49), (1971.85, 0.43), (1972.2, 0.46),
           (1972.6, 0.49), (1973.0, 0.43), (1973.4, 0.46), (1973.8, 0.42), (1974.2, 0.49), (1974.4, 0.55),
           (1974.6, 0.62), (1974.75, 0.92), (1978.2, 0.92), (1978.4, 1.0), (1979.0, 1.04),
           (1979.6, 1.13), (1980.0, 1.24), (1980.4, 1.27), (1980.8, 1.42), (1981.0, 1.36), (1981.3, 1.3),
           (1981.7, 1.24), (1982.1, 1.16), (1982.5, 1.07), (1982.9, 1.01), (1983.3, 1.13), (1983.6, 1.21),
           (1984.0, 1.1), (1984.4, 0.98), (1984.8, 0.95), (1985.2, 0.92), (1985.6, 0.9), (1986.0, 0.84),
           (1986.3, 0.78), (1986.4, 0.76), (1991.6, 0.76), (1991.8, 0.72), (1992.1, 0.64), (1992.7, 0.58),
           (1993.1, 0.61), (1993.5, 0.64), (1993.9, 0.72), (1994.3, 0.78), (1994.7, 0.72), (1995.0, 0.66),
           (1995.4, 0.67), (1995.8, 0.64), (1996.2, 0.61), (1996.6, 0.46), (1997.0, 0.52), (1997.4, 0.49),
           (1997.7, 0.46), (1998.1, 0.49), (1998.5, 0.4), (1998.9, 0.49), (1999.3, 0.61), (1999.7, 0.78),
           (2000.1, 0.95), (2000.3, 1.07), (2000.5, 0.95), (2000.8, 1.01), (2001.2, 0.96), (2001.4, 1.1),
           (2001.6, 1.13), (2001.8, 0.95), (2002.0, 1.01), (2002.4, 0.84), (2002.8, 0.49), (2003.0, 0.61),
           (2003.3, 0.78), (2003.7, 0.9), (2004.1, 0.92), (2004.3, 0.84), (2004.7, 1.01), (2005.1, 1.13),
           (2005.5, 1.1), (2005.9, 1.16), (2006.2, 1.24), (2006.6, 1.16), (2007.0, 1.18), (2007.4, 1.17),
           (2007.8, 1.07), (2008.2, 1.01), (2008.6, 0.95), (2008.8, 0.78), (2009.0, 0.64), (2009.1, 0.55),
           (2009.3, 0.72), (2009.7, 0.78), (2010.1, 0.84), (2010.5, 0.92), (2010.9, 0.9), (2011.3, 0.84),
           (2011.7, 0.72), (2012.0, 0.75), (2012.4, 0.58), (2012.8, 0.55), (2013.2, 0.64), (2013.4, 0.58)]
C_BROWN = [(1962.0, -0.09), (1962.4, -0.06), (1962.8, -0.03), (1963.0, 0.01), (1965.1, 0.01), (1965.1, 0.14),
           (1972.9, 0.14), (1972.9, 0.12), (1981.0, 0.12), (1981.2, 0.26), (1981.5, 0.14), (1981.9, 0.2),
           (1982.3, 0.32), (1982.7, 0.2), (1983.1, 0.26), (1983.4, 0.49), (1983.7, 0.69), (1984.0, 0.55),
           (1984.2, 0.4), (1984.6, 0.32), (1985.0, 0.2), (1985.4, 0.06), (1985.8, -0.09), (1986.2, -0.2),
           (1986.4, -0.43), (1986.5, -0.46), (1988.8, -0.46), (1989.2, -0.61), (1989.6, -0.78), (1989.8, -0.87),
           (1990.0, -0.75), (1991.6, -0.75), (1991.8, -0.72), (1991.9, -0.69), (1992.3, -0.81), (1992.7, -0.9),
           (1993.1, -1.07), (1993.2, -0.97), (1994.8, -0.97), (1995.0, -1.07), (1995.2, -1.01), (1995.4, -0.92),
           (1995.8, -0.9), (1996.2, -0.84), (1996.6, -0.78), (1997.0, -0.72), (1997.4, -0.78), (1997.7, -0.66),
           (1998.1, -0.79), (1998.5, -0.9), (1998.7, -0.85), (1999.8, -0.85), (2000.1, -1.01), (2000.3, -1.18),
           (2000.5, -1.24), (2000.8, -1.13), (2001.2, -1.01), (2001.6, -0.92), (2001.8, -0.78), (2005.7, -0.78),
           (2005.9, -0.66), (2006.2, -0.69), (2006.6, -0.75), (2007.0, -0.78), (2007.4, -0.77), (2007.8, -0.75),
           (2008.2, -0.72), (2008.6, -0.81), (2009.0, -0.9), (2009.9, -0.9), (2010.1, -1.01), (2010.5, -0.98),
           (2010.9, -0.95), (2011.3, -0.96), (2011.7, -0.92), (2012.0, -0.98), (2012.4, -1.13), (2012.8, -1.24),
           (2013.2, -1.3), (2013.4, -1.39)]
C_PINK = [(1962.0, 0.03), (1962.4, 0.14), (1962.8, 0.26), (1963.2, 0.29), (1963.5, 0.26), (1963.9, 0.32),
          (1964.3, 0.26), (1964.9, 0.2), (1965.3, 0.03), (1965.7, -0.32), (1965.9, -0.55), (1966.1, -0.78),
          (1968.0, -0.78), (1968.4, -0.75), (1968.8, -0.84), (1969.0, -0.78), (1969.15, -0.72), (1969.3, -0.55),
          (1969.5, -0.32), (1969.7, -0.29), (1975.0, -0.29), (1975.1, -0.2), (1975.3, -0.14), (1975.4, -0.32),
          (1975.6, -0.43), (1975.65, -0.39), (1984.6, -0.39), (1984.8, -0.45), (1987.9, -0.45), (1988.0, -0.2),
          (1988.2, 0.14), (1988.5, -0.14), (1988.9, -0.26), (1989.2, -0.32), (1990.0, -0.31), (1990.8, -0.32),
          (1991.6, -0.35), (1991.9, -0.26), (1992.3, -0.32), (1993.1, -0.38), (1993.9, -0.43), (1994.7, -0.38),
          (1995.4, -0.43), (1996.2, -0.49), (1997.0, -0.46), (1997.4, -0.26), (1997.7, -0.2), (1998.5, -0.2),
          (1998.9, -0.14), (1999.3, -0.09), (1999.7, -0.03), (2000.1, -0.09), (2000.3, 0.03), (2000.5, -0.2),
          (2000.6, -0.43), (2000.8, -0.66), (2001.0, -0.6), (2001.2, -0.55), (2001.4, -0.43), (2001.6, -0.38),
          (2001.8, -0.26), (2001.85, -0.23), (2002.8, -0.23), (2002.9, -0.09), (2003.0, 0.0), (2003.2, 0.03),
          (2003.5, -0.03), (2003.9, -0.09), (2004.3, -0.03), (2004.7, -0.09), (2005.1, -0.14), (2005.5, -0.17),
          (2005.9, -0.14), (2006.2, -0.26), (2006.3, -0.29), (2007.6, -0.29), (2007.8, -0.2), (2008.2, -0.14),
          (2008.6, -0.03), (2009.0, 0.03), (2009.3, -0.03), (2009.7, 0.03), (2010.1, -0.2), (2010.3, -0.29),
          (2011.9, -0.29), (2012.1, -0.32), (2012.4, -0.3), (2012.8, -0.32), (2013.2, -0.4), (2013.4, -0.49)]
C_ORANGE = [(1962.0, 0.03), (1962.4, -0.03), (1962.8, -0.09), (1963.2, -0.14), (1963.5, -0.2), (1963.9, -0.26),
            (1964.3, -0.38), (1964.5, -0.46), (1964.7, -0.32), (1964.9, -0.2), (1965.3, -0.03), (1965.7, 0.09),
            (1966.06, 0.14), (1966.4, 0.2), (1966.8, 0.26), (1967.2, 0.38), (1967.6, 0.43), (1968.0, 0.49),
            (1968.4, 0.55), (1968.8, 0.38), (1969.15, 0.26), (1969.5, 0.14), (1969.9, 0.2), (1970.3, 0.32),
            (1970.7, 0.38), (1971.1, 0.32), (1971.5, 0.35), (1971.85, 0.31), (1972.2, 0.38), (1972.6, 0.32),
            (1973.0, 0.38), (1973.4, 0.32), (1973.8, 0.26), (1974.2, 0.32), (1974.6, 0.26), (1975.0, 0.14),
            (1975.3, 0.12), (1975.7, 0.14), (1976.1, 0.15), (1976.9, 0.17), (1977.65, 0.16), (1978.4, 0.17),
            (1979.2, 0.2), (1979.6, 0.32), (1980.4, 0.43), (1981.1, 0.55), (1981.7, 0.64), (1982.3, 0.78),
            (1982.7, 0.95), (1983.1, 1.13), (1983.6, 1.21), (1984.2, 1.16), (1984.4, 1.2), (1987.1, 1.2),
            (1987.3, 1.1), (1987.7, 1.13), (1988.1, 1.18), (1988.5, 1.24), (1988.9, 1.3), (1989.2, 1.42),
            (1989.6, 1.45), (1990.0, 1.53), (1990.4, 1.59), (1990.8, 1.71), (1991.2, 1.76), (1991.6, 1.82),
            (1991.9, 1.94), (1992.1, 2.0), (1993.5, 2.0), (1993.7, 1.94), (1993.9, 1.88), (1994.1, 1.76),
            (1994.3, 1.66), (1997.2, 1.66), (1997.4, 1.53), (1997.6, 1.45), (1997.8, 1.5), (1998.1, 1.56),
            (1998.4, 1.62), (2001.2, 1.62), (2001.4, 1.47), (2001.8, 1.33), (2002.2, 1.27), (2002.6, 1.28),
            (2003.0, 1.24), (2003.3, 1.13), (2003.5, 1.01), (2003.7, 0.95), (2003.9, 0.89), (2004.1, 0.82),
            (2013.4, 0.82)]
C_GOLD = [(1962.0, 0.03), (1962.6, -0.03), (1963.2, -0.09), (1963.7, -0.2), (1964.3, -0.23), (1964.9, -0.2),
          (1965.3, -0.09), (1965.7, 0.03), (1966.06, 0.2), (1966.4, 0.32), (1966.8, 0.38), (1967.2, 0.49),
          (1967.6, 0.55), (1968.0, 0.58), (1968.4, 0.49), (1968.8, 0.55), (1969.15, 0.61), (1969.5, 0.72),
          (1969.9, 0.84), (1970.3, 0.78), (1970.7, 0.66), (1971.1, 0.55), (1971.5, 0.58), (1971.85, 0.61),
          (1972.2, 0.64), (1972.6, 0.6), (1973.0, 0.55), (1973.4, 0.49), (1973.8, 0.52), (1974.2, 0.55),
          (1974.6, 0.61), (1975.0, 0.69), (1975.3, 0.84), (1975.7, 0.78), (1976.1, 0.84), (1976.5, 0.81),
          (1976.9, 0.84), (1977.3, 0.85), (1977.65, 0.9), (1978.0, 0.84), (1978.8, 0.9), (1979.6, 0.84),
          (1979.8, 0.83), (1980.4, 0.83), (1980.7, 0.95), (1981.1, 0.96), (1981.5, 0.95), (1981.9, 0.98),
          (1982.3, 0.95), (1982.7, 1.04), (1983.1, 1.07), (1983.4, 1.01), (1983.8, 0.95), (1984.2, 0.94),
          (1984.6, 0.92), (1985.0, 0.95), (1985.4, 0.9), (1985.8, 0.84), (1986.2, 0.78), (1986.5, 0.75),
          (1986.9, 0.69), (1987.3, 0.64), (1987.7, 0.69), (1988.1, 0.84), (1988.5, 0.87), (1988.9, 0.9),
          (1989.2, 0.91), (1989.6, 0.92), (1990.0, 0.95), (1990.4, 0.98), (1990.8, 0.95), (1991.2, 1.02),
          (1991.4, 0.9), (1991.8, 0.78), (1992.0, 0.79), (1992.3, 0.72), (1992.7, 0.69), (1993.1, 0.75),
          (1993.5, 0.72), (1993.9, 0.78), (1994.3, 0.81), (1994.7, 0.84), (1995.0, 0.85), (1995.4, 0.92),
          (1995.8, 1.01), (1996.2, 0.95), (1996.6, 0.9), (1997.0, 0.87), (1997.4, 0.84), (1997.7, 0.85),
          (1998.1, 0.81), (1998.3, 0.69), (1998.9, 0.69), (1999.1, 0.9), (1999.3, 0.98), (1999.5, 0.84),
          (1999.7, 0.78), (2000.1, 0.87), (2000.5, 0.95), (2000.8, 0.98), (2001.2, 0.9), (2001.6, 0.84),
          (2002.0, 0.78), (2002.4, 0.69), (2002.8, 0.61), (2003.2, 0.55), (2003.5, 0.66), (2003.9, 0.75),
          (2004.3, 0.78), (2004.7, 0.72), (2005.1, 0.66), (2005.5, 0.69), (2005.9, 0.72), (2006.6, 0.73),
          (2007.0, 0.69), (2007.4, 0.72), (2007.8, 0.69), (2008.2, 0.66), (2008.6, 0.69), (2008.8, 0.64),
          (2009.0, 0.61), (2011.5, 0.61), (2011.7, 0.58), (2012.0, 0.61), (2012.4, 0.58), (2012.8, 0.66),
          (2013.2, 0.69), (2013.4, 0.64)]
C_GRAY = [(1962.0, 0.09), (1962.4, 0.2), (1962.8, 0.14), (1963.2, 0.2), (1963.5, 0.14), (1963.9, 0.09),
          (1964.3, 0.14), (1964.7, 0.15), (1965.1, 0.12), (1965.5, 0.09), (1965.9, 0.14), (1966.3, 0.12),
          (1966.6, 0.09), (1967.0, 0.12), (1967.4, 0.14), (1967.6, 0.09), (1967.8, -0.09), (1968.2, -0.2),
          (1968.4, -0.32), (1968.8, -0.26), (1969.15, -0.23), (1969.5, -0.29), (1969.9, -0.38), (1970.3, -0.32),
          (1970.7, -0.26), (1971.1, -0.27), (1971.5, -0.14), (1971.85, -0.12), (1972.2, -0.14), (1972.6, -0.09),
          (1973.0, -0.03), (1973.4, -0.04), (1973.6, 0.14), (1973.8, 0.2), (1974.0, 0.03), (1974.2, -0.03),
          (1974.6, -0.09), (1975.0, -0.03), (1975.3, 0.03), (1975.7, -0.03), (1976.1, -0.09), (1976.5, -0.06),
          (1976.9, -0.09), (1977.3, -0.03), (1978.0, -0.09), (1978.8, -0.06), (1979.4, -0.03), (1979.6, 0.09),
          (1980.0, 0.14), (1980.4, 0.2), (1980.7, 0.14), (1981.5, 0.03), (1982.3, -0.03), (1983.1, -0.14),
          (1983.8, -0.2), (1984.6, -0.23), (1985.4, -0.2), (1985.8, -0.14), (1986.2, -0.03), (1986.5, 0.06),
          (1986.9, 0.09), (1987.3, 0.12), (1987.7, 0.2), (1988.1, 0.32), (1988.5, 0.38), (1988.9, 0.43),
          (1989.2, 0.46), (1989.6, 0.55), (1990.0, 0.69), (1990.4, 0.66), (1990.8, 0.49), (1991.0, 0.4),
          (1991.2, 0.55), (1991.6, 0.78), (1991.9, 0.9), (1992.1, 0.95), (1992.3, 0.92), (1992.5, 1.13),
          (1992.7, 1.3), (1992.9, 1.45), (1993.1, 1.42), (1995.6, 1.42), (1995.7, 1.33), (1995.8, 1.4),
          (1998.7, 1.4), (1998.9, 1.35), (1999.1, 1.24), (1999.3, 1.3), (1999.5, 1.13), (1999.7, 1.07),
          (1999.9, 1.18), (2000.1, 1.24), (2000.3, 1.33), (2000.5, 1.3), (2000.6, 1.18), (2000.8, 1.36),
          (2001.0, 1.5), (2001.2, 1.53), (2001.8, 1.53), (2002.0, 1.59), (2002.2, 1.71), (2002.4, 1.82),
          (2002.6, 1.85), (2002.8, 1.76), (2003.0, 1.79), (2003.3, 1.88), (2003.5, 1.91), (2003.9, 1.94),
          (2004.3, 1.99), (2004.7, 2.05), (2005.1, 2.11), (2005.3, 2.17), (2005.5, 2.23), (2005.9, 2.25),
          (2006.2, 2.31), (2006.4, 2.37), (2006.8, 2.31), (2007.2, 2.28), (2007.6, 2.23), (2008.0, 2.26),
          (2008.4, 2.17), (2008.8, 2.11), (2009.0, 1.91), (2009.1, 1.71), (2009.3, 1.59), (2009.5, 1.68),
          (2009.7, 1.74), (2010.1, 1.79), (2010.5, 1.82), (2010.9, 1.79), (2011.3, 1.76), (2011.5, 1.65),
          (2011.7, 1.59), (2011.9, 1.5), (2012.2, 1.47), (2012.6, 1.45), (2013.0, 1.5), (2013.2, 1.53),
          (2013.4, 1.56)]

PANELS = [
    {"red": A_RED, "green": A_GREEN, "blue": A_BLUE, "black": A_BLACK, "brown": A_BROWN,
     "pink": A_PINK, "orange": A_ORANGE, "gold": A_GOLD, "gray": A_GRAY},
    {"red": B_RED, "green": B_GREEN, "blue": B_BLUE, "black": B_BLACK, "brown": B_BROWN,
     "pink": B_PINK, "orange": B_ORANGE, "gold": B_GOLD, "gray": B_GRAY},
    {"red": C_RED, "green": C_GREEN, "blue": C_BLUE, "black": C_BLACK, "brown": C_BROWN,
     "pink": C_PINK, "orange": C_ORANGE, "gold": C_GOLD, "gray": C_GRAY},
]
# in panel (c) constant stretches are carried forward and drawn thin
FLAT_IS_THIN = [False, False, True]


def split_runs(series, points, flat_thin):
    """Split a path into thick data runs and thin connector segments."""
    thick, thin = [], []
    run, run_id = [points[0]], 0
    for (x0, y0), (x1, y1) in zip(points[:-1], points[1:]):
        is_thin = (x0 == x1) or (flat_thin and y0 == y1)
        if is_thin:
            if len(run) > 1:
                thick += [(series, f"{series}-{run_id}", x, y) for x, y in run]
                run_id += 1
            tag = f"{series}-t{len(thin)}"
            thin += [(series, tag, x0, y0), (series, tag, x1, y1)]
            run = [(x1, y1)]
        else:
            run.append((x1, y1))
    if len(run) > 1:
        thick += [(series, f"{series}-{run_id}", x, y) for x, y in run]
    return thick, thin


sns.set_style("white")
plt.rcParams["font.family"] = ["Liberation Sans", "DejaVu Sans"]

fig = plt.figure(figsize=(10.51, 10.97), dpi=100)
axes_boxes = [
    [0.05281, 0.72407, 0.91075, 0.27046],
    [0.05281, 0.38897, 0.91075, 0.26983],
    [0.05281, 0.05315, 0.91075, 0.26983],
]
label_y = [1 - 158 / 1097, 1 - 526 / 1097, 1 - 892 / 1097]

for i, (box, panel) in enumerate(zip(axes_boxes, PANELS)):
    ax = fig.add_axes(box)
    thick_rows, thin_rows = [], []
    for name in SERIES_ORDER:
        tk, tn = split_runs(name, panel[name], FLAT_IS_THIN[i])
        thick_rows += tk
        thin_rows += tn
    cols = ["series", "unit", "year", "value"]
    thin_df = pd.DataFrame(thin_rows, columns=cols)
    thick_df = pd.DataFrame(thick_rows, columns=cols)
    if len(thin_df):
        sns.lineplot(data=thin_df, x="year", y="value", hue="series", units="unit",
                     estimator=None, sort=False, hue_order=SERIES_ORDER, palette=SERIES_COLORS,
                     linewidth=0.85, legend=False, ax=ax)
    sns.lineplot(data=thick_df, x="year", y="value", hue="series", units="unit",
                 estimator=None, sort=False, hue_order=SERIES_ORDER, palette=SERIES_COLORS,
                 linewidth=1.7, legend=False, ax=ax)

    ax.set_xlim(1959.94, 2015.5)
    ax.set_ylim(-2.64, 2.51)
    ax.set_xlabel("")
    ax.set_ylabel("")
    ax.set_xticks(YEAR_TICKS)
    ax.set_yticks(VALUE_TICKS)
    ax.set_yticklabels([str(v) for v in VALUE_TICKS], rotation=90, va="center")
    if i == 1:
        ax.set_xticklabels([])
    else:
        ax.set_xticklabels([str(y) for y in YEAR_TICKS])
    ax.tick_params(axis="x", direction="out", length=11.5, width=0.9, pad=19,
                   labelsize=12.5, colors="#222222", bottom=True)
    ax.tick_params(axis="y", direction="out", length=11.5, width=0.9, pad=8,
                   labelsize=12.5, colors="#222222", left=True)
    for sp in ax.spines.values():
        sp.set_color("#222222")
        sp.set_linewidth(1.0)
    ax.grid(False)
    fig.text(1031 / 1051, label_y[i], PANEL_LABELS[i], ha="center", va="center",
             fontsize=16, color="#222222")

fig.savefig("out.png", dpi=100)
